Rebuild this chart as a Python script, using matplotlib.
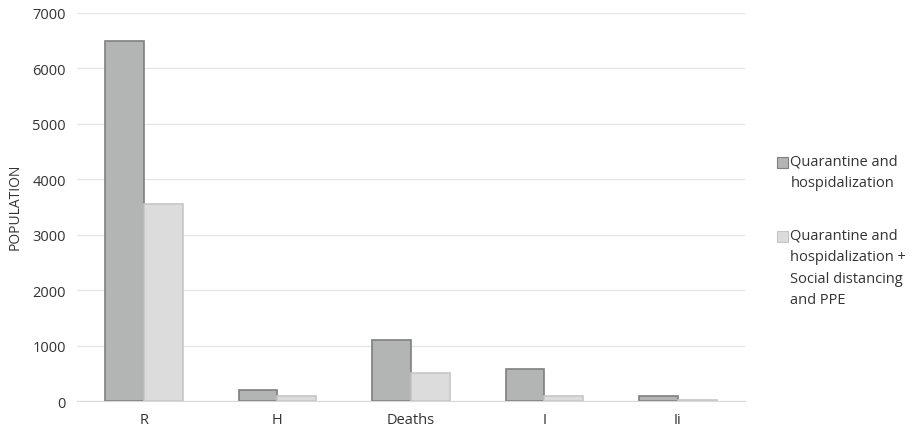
import numpy as np
import matplotlib.pyplot as plt

categories = ["R", "H", "Deaths", "I", "Ii"]
quarantine = [6500, 200, 1100, 580, 100]
quarantine_sd = [3550, 100, 500, 100, 20]
labels = ["Quarantine and\nhospidalization",
          "Quarantine and\nhospidalization +\nSocial distancing\nand PPE"]

plt.rcParams['font.family'] = ['Open Sans', 'DejaVu Sans']

fig = plt.figure(figsize=(9.17, 4.31), dpi=100)
ax = fig.add_axes([0.084, 0.067, 0.728, 0.901])

x = np.arange(len(categories))
w = 0.29
b1 = ax.bar(x - w / 2, quarantine, w, color='#b3b4b4', edgecolor='#7f7f7f', linewidth=1.2, label=labels[0])
b2 = ax.bar(x + w / 2, quarantine_sd, w, color='#dcdcdc', edgecolor='#c6c6c6', linewidth=1.2, label=labels[1])

ax.set_xlim(-0.5, len(categories) - 0.5)
ax.set_ylim(0, 7000)
ax.set_yticks(range(0, 7001, 1000))
ax.set_xticks(x)
ax.set_xticklabels(categories)
ax.grid(axis='y', color='#e6e6e6', linewidth=1)
ax.set_axisbelow(True)
for s in ['top', 'right', 'left']:
    ax.spines[s].set_visible(False)
ax.spines['bottom'].set_color('#d9d9d9')
ax.tick_params(length=0, labelsize=10.5, colors='#333333', pad=8)
fig.text(0.017, 0.52, "POPULATION", fontsize=10, color='#333333', rotation=90,
         ha='center', va='center')

# legend drawn by hand, entries far apart like the original
fig.text(0.862, 0.642, labels[0], fontsize=10.5, color='#333333', va='top', linespacing=1.6)
fig.text(0.862, 0.470, labels[1], fontsize=10.5, color='#333333', va='top', linespacing=1.6)
fig.patches.append(plt.Rectangle((0.847, 0.608), 0.012, 0.026, transform=fig.transFigure,
                                 facecolor='#b3b4b4', edgecolor='#7f7f7f', linewidth=0.8))
fig.patches.append(plt.Rectangle((0.847, 0.436), 0.012, 0.026, transform=fig.transFigure,
                                 facecolor='#dcdcdc', edgecolor='#c6c6c6', linewidth=0.8))

fig.savefig("out.png")
